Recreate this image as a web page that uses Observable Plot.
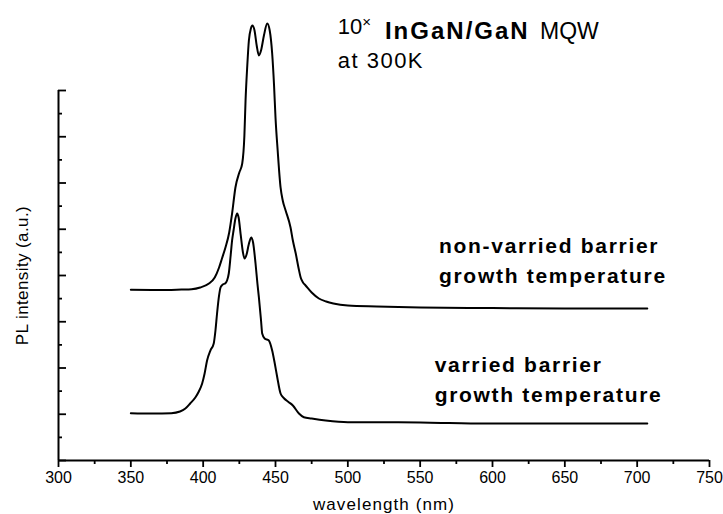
<!DOCTYPE html>
<html>
<head>
<meta charset="utf-8">
<script src="https://cdn.jsdelivr.net/npm/d3@7"></script>
<script src="https://cdn.jsdelivr.net/npm/@observablehq/plot@0.6"></script>
<style>
  html, body { margin: 0; padding: 0; background: #fff; }
  svg { display: block; }
</style>
</head>
<body>
<div id="chart"></div>
<script>
// ---- data (wavelength in nm, PL intensity in arbitrary units) ----
const nonVarriedNm = [350, 370, 385, 392, 398, 404, 408, 411, 413, 415.4, 418, 420, 422.3, 425, 427, 428.5, 429.3, 430.5, 431.6, 433, 434, 435.5, 437, 438.5, 440, 442, 444.3, 446, 447.7, 449, 450, 451.5, 453.5, 455, 457, 460.4, 462, 464, 466, 467.4, 469, 470.8, 475, 480, 485, 490, 500, 520, 550, 600, 650, 707];
const nonVarriedPL = [3.691, 3.686, 3.697, 3.704, 3.741, 3.827, 3.957, 4.173, 4.368, 4.605, 4.930, 5.341, 5.903, 6.227, 6.422, 7.027, 7.784, 8.541, 9.081, 9.341, 9.405, 9.297, 8.973, 8.757, 8.865, 9.189, 9.449, 9.297, 8.800, 8.108, 7.416, 6.703, 5.903, 5.622, 5.405, 5.038, 4.757, 4.476, 4.151, 3.957, 3.849, 3.784, 3.632, 3.503, 3.438, 3.395, 3.351, 3.330, 3.308, 3.297, 3.286, 3.286];

const varriedNm = [350, 365, 378, 384, 387.7, 391, 394.7, 397, 399.3, 401, 402.7, 405, 407.3, 408.5, 409.6, 411, 412, 413.5, 415.4, 416.5, 417.7, 419, 420, 421, 422.3, 423.5, 424.5, 426, 427.5, 428.6, 430, 431.5, 433.2, 434.5, 436.2, 437.5, 438.5, 440, 440.8, 442.5, 445.4, 447.7, 449.5, 451.2, 453.5, 456, 459.2, 462, 466.2, 469.6, 475, 484.7, 500, 535, 570, 600, 650, 707];
const varriedPL = [1.023, 1.016, 1.023, 1.059, 1.124, 1.232, 1.369, 1.492, 1.665, 1.881, 2.162, 2.378, 2.530, 2.811, 3.178, 3.568, 3.741, 3.805, 3.834, 3.892, 4.043, 4.432, 4.757, 4.973, 5.232, 5.341, 5.254, 4.865, 4.497, 4.368, 4.454, 4.670, 4.822, 4.714, 4.259, 3.827, 3.531, 3.027, 2.746, 2.638, 2.595, 2.378, 2.097, 1.801, 1.449, 1.341, 1.261, 1.189, 1.016, 0.936, 0.908, 0.865, 0.828, 0.828, 0.811, 0.800, 0.800, 0.800];

const xMajorTicks = [300, 350, 400, 450, 500, 550, 600, 650, 700, 750];
const xMinorTicks = [325, 375, 425, 475, 525, 575, 625, 675, 725];
const yMajorTicks = [0, 1, 2, 3, 4, 5, 6, 7, 8];
const yMinorTicks = [0.5, 1.5, 2.5, 3.5, 4.5, 5.5, 6.5, 7.5];

const xLabel = "wavelength (nm)";
const yLabel = "PL intensity (a.u.)";
const titleLines = [
  {nm: 493, pl: 9.22, text: "10× InGaN/GaN MQW", cls: "title1"},
  {nm: 493, pl: 8.48, text: "at 300K", cls: "title2"}
];
const annotations = [
  {nm: 563, pl: 3.84, text: "non-varried barrier\ngrowth temperature"},
  {nm: 560, pl: 1.26, text: "varried barrier\ngrowth temperature"}
];

const upper = nonVarriedNm.map((nm, i) => ({nm, pl: nonVarriedPL[i]}));
const lower = varriedNm.map((nm, i) => ({nm, pl: varriedPL[i]}));

const font = "'Liberation Sans', Arial, Helvetica, sans-serif";

const chart = Plot.plot({
  width: 723,
  height: 514,
  marginLeft: 58,
  marginRight: 14,
  marginTop: 90,
  marginBottom: 54,
  style: {fontFamily: font, color: "#000", background: "#fff", overflow: "visible"},
  x: {domain: [300, 750]},
  y: {domain: [0, 8]},
  marks: [
    Plot.axisX({ticks: xMajorTicks, tickSize: 7, tickPadding: 4, strokeWidth: 1.8, fontSize: 16, label: null}),
    Plot.axisX({ticks: xMinorTicks, tickSize: 4, strokeWidth: 1.8, tickFormat: () => "", label: null}),
    Plot.axisY({ticks: yMajorTicks, tickSize: -8, strokeWidth: 1.8, tickFormat: () => "", label: null}),
    Plot.axisY({ticks: yMinorTicks, tickSize: -4, strokeWidth: 1.8, tickFormat: () => "", label: null}),
    Plot.ruleX([300], {strokeWidth: 2}),
    Plot.ruleY([0], {strokeWidth: 2}),
    Plot.line(upper, {x: "nm", y: "pl", strokeWidth: 2, curve: "monotone-x"}),
    Plot.line(lower, {x: "nm", y: "pl", strokeWidth: 2, curve: "monotone-x"}),
    Plot.text([xLabel], {frameAnchor: "bottom", text: d => d, dy: 49, fontSize: 17, lineAnchor: "bottom", className: "xlab"}),
    Plot.text([yLabel], {frameAnchor: "left", text: d => d, dx: -36, rotate: -90, fontSize: 17, textAnchor: "middle", lineAnchor: "middle", className: "ylab"}),
    Plot.text(titleLines.slice(0, 1), {x: "nm", y: "pl", text: "text", textAnchor: "start", lineAnchor: "bottom", fontSize: 22, className: "title1"}),
    Plot.text(titleLines.slice(1), {x: "nm", y: "pl", text: "text", textAnchor: "start", lineAnchor: "bottom", fontSize: 22, className: "title2"}),
    Plot.text(annotations, {x: "nm", y: "pl", text: "text", textAnchor: "start", lineAnchor: "bottom", fontSize: 21, fontWeight: "bold", lineHeight: 1.43, className: "annot"})
  ]
});

document.getElementById("chart").appendChild(chart);

// mixed-style first title line
d3.select(chart).selectAll(".title1 text").each(function () {
  const t = d3.select(this);
  t.text(null);
  t.append("tspan").text("10");
  t.append("tspan").attr("font-size", 15).attr("dy", "-0.5em").text("×");
  t.append("tspan").attr("dy", "0.5em").attr("dx", 14).attr("font-weight", "bold").attr("font-size", 24).attr("letter-spacing", "2px").text("InGaN/GaN");
  t.append("tspan").attr("dx", 4).attr("font-size", 23).text(" MQW");
});
d3.select(chart).selectAll(".annot text").attr("letter-spacing", "1.7px");
d3.select(chart).selectAll(".title2 text").attr("letter-spacing", "1.5px");
d3.select(chart).selectAll(".xlab text").attr("letter-spacing", "1.1px");
d3.select(chart).selectAll(".ylab text").attr("letter-spacing", "0.4px");
</script>
</body>
</html>
